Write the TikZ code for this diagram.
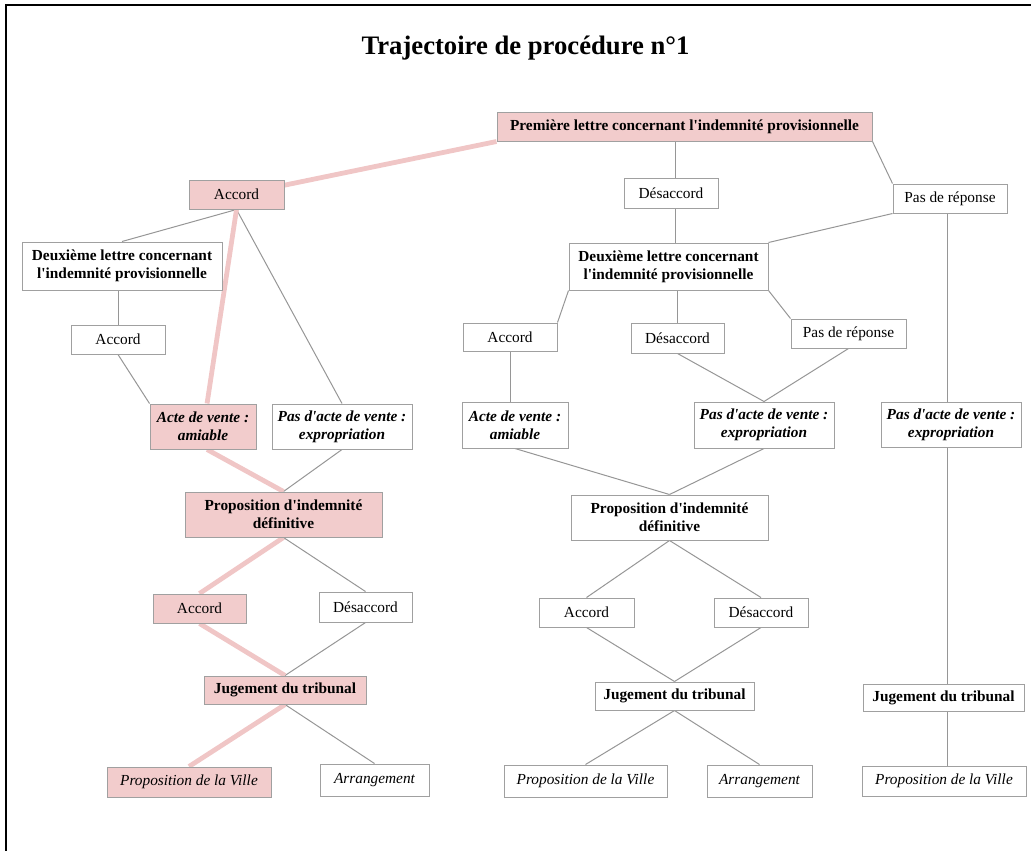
\documentclass[tikz,border=0pt]{standalone}
\usepackage{fontspec}
\setmainfont{Liberation Serif}
\usetikzlibrary{backgrounds}
\definecolor{boxgray}{RGB}{160,160,160}
\definecolor{linegray}{RGB}{150,150,150}
\definecolor{pinkfill}{RGB}{242,204,204}
\definecolor{pinkline}{RGB}{240,198,198}
\newcommand\ap{\textquotesingle}
\tikzset{
  box/.style={draw=boxgray, line width=0.75pt, fill=white, align=center, inner sep=1pt,
              font=\fontsize{11.5}{13.5}\selectfont},
  hl/.style={fill=pinkfill},
  txtb/.style={font=\fontsize{11.5}{13.5}\selectfont\bfseries},
  txtbi/.style={font=\fontsize{11.5}{13.5}\selectfont\bfseries\itshape},
  txti/.style={font=\fontsize{11.5}{13.5}\selectfont\itshape},
  sz/.style 2 args={minimum width=#1*0.75pt, minimum height=#2*0.75pt},
  conn/.style={draw=linegray, line width=0.75pt},
  path/.style={draw=pinkline, line width=3.6pt},
}
\begin{document}
\begin{tikzpicture}[x=0.75pt, y=-0.75pt]
\useasboundingbox (0,0) rectangle (1031,850);
\draw[line width=1.5pt] (6,851) -- (6,5) -- (1032,5);

\node[font=\fontsize{20}{24}\selectfont\bfseries] (title) at (525.5,48) {Trajectoire de procédure n°1};

% top
\node[box,hl,txtb,sz={375}{29}] (prem) at (684.5,126.5) {Première lettre concernant l\ap indemnité provisionnelle};
\node[box,hl,sz={95}{29}] (acc1) at (236.5,194.5) {Accord};
\node[box,sz={94}{30}] (des1) at (671,193) {Désaccord};
\node[box,sz={114}{29}] (pdr1) at (950,198.5) {Pas de réponse};

% second letters
\node[box,txtb,sz={200}{48}] (deux1) at (122,266) {Deuxième lettre concernant\\l\ap indemnité provisionnelle};
\node[box,txtb,sz={199}{47}] (deux2) at (668.5,266.5) {Deuxième lettre concernant\\l\ap indemnité provisionnelle};

% third row
\node[box,sz={94}{29}] (acc2) at (118,339.5) {Accord};
\node[box,sz={94}{28}] (acc3) at (510,337) {Accord};
\node[box,sz={93}{30}] (des3) at (677.5,338) {Désaccord};
\node[box,sz={115}{29}] (pdr3) at (848.5,333.5) {Pas de réponse};

% acte row
\node[box,hl,txtbi,sz={106}{45}] (acte1) at (203,426.5) {Acte de vente :\\amiable};
\node[box,txtbi,sz={140}{45}] (pas1) at (342,426.5) {Pas d\ap acte de vente :\\expropriation};
\node[box,txtbi,sz={106}{46}] (acte2) at (515,425) {Acte de vente :\\amiable};
\node[box,txtbi,sz={140}{46}] (pas2) at (764,425) {Pas d\ap acte de vente :\\expropriation};
\node[box,txtbi,sz={140}{45}] (pas3) at (951,424.5) {Pas d\ap acte de vente :\\expropriation};

% proposition
\node[box,hl,txtb,sz={197}{45}] (prop1) at (283.5,514.5) {Proposition d\ap indemnité\\définitive};
\node[box,txtb,sz={197}{45}] (prop2) at (669.5,517.5) {Proposition d\ap indemnité\\définitive};

% accord / desaccord
\node[box,hl,sz={93}{29}] (acc4) at (199.5,608.5) {Accord};
\node[box,sz={93}{30}] (des4) at (365.5,607) {Désaccord};
\node[box,sz={95}{29}] (acc5) at (586.5,612.5) {Accord};
\node[box,sz={94}{29}] (des5) at (761,612.5) {Désaccord};

% jugement
\node[box,hl,txtb,sz={162}{28}] (jug1) at (285,690) {Jugement du tribunal};
\node[box,txtb,sz={159}{28}] (jug2) at (674.5,696) {Jugement du tribunal};
\node[box,txtb,sz={161}{27}] (jug3) at (943.5,697.5) {Jugement du tribunal};

% outcomes
\node[box,hl,txti,sz={164}{30}] (pv1) at (189,782) {Proposition de la Ville};
\node[box,txti,sz={109}{32}] (arr1) at (374.5,780) {Arrangement};
\node[box,txti,sz={163}{32}] (pv2) at (585.5,781) {Proposition de la Ville};
\node[box,txti,sz={105}{32}] (arr2) at (759.5,781) {Arrangement};
\node[box,txti,sz={164}{30}] (pv3) at (944,781) {Proposition de la Ville};

\coordinate (vx) at (947,0);
\coordinate (vm) at (675,0);

\begin{scope}[on background layer]
% grey connectors, middle and right
\draw[conn] (prem.south -| vm) -- (des1.north -| vm);
\draw[conn] (prem.south east) -- (pdr1.north west);
\draw[conn] (des1.south -| vm) -- (deux2.north -| vm);
\draw[conn] (pdr1.south west) -- (deux2.north east);
\draw[conn] (pdr1.south -| vx) -- (pas3.north -| vx);
\draw[conn] (deux2.south west) -- (acc3.north east);
\draw[conn] (deux2.south -| des3.north) -- (des3.north);
\draw[conn] (deux2.south east) -- (pdr3.north west);
\draw[conn] (acc3.south) -- (acc3.south |- acte2.north);
\draw[conn] (des3.south) -- (pas2.north);
\draw[conn] (pdr3.south) -- (pas2.north);
\draw[conn] (acte2.south) -- (prop2.north);
\draw[conn] (pas2.south) -- (prop2.north);
\draw[conn] (prop2.south) -- (acc5.north);
\draw[conn] (prop2.south) -- (des5.north);
\draw[conn] (acc5.south) -- (jug2.north);
\draw[conn] (des5.south) -- (jug2.north);
\draw[conn] (jug2.south) -- (pv2.north);
\draw[conn] (jug2.south) -- (arr2.north);
\draw[conn] (pas3.south -| vx) -- (jug3.north -| vx);
\draw[conn] (jug3.south -| vx) -- (pv3.north -| vx);
% grey connectors, left
\draw[conn] (acc1.south) -- (deux1.north);
\draw[conn] (acc1.south) -- (pas1.north);
\draw[conn] (deux1.south -| acc2.north) -- (acc2.north);
\draw[conn] (acc2.south) -- (acte1.north west);
\draw[conn] (pas1.south) -- (prop1.north);
\draw[conn] (prop1.south) -- (des4.north);
\draw[conn] (des4.south) -- (jug1.north);
\draw[conn] (jug1.south) -- (arr1.north);
% highlighted path
\draw[path] (prem.south west) -- (acc1.11);
\draw[path] (acc1.south) -- (acte1.80);
\draw[path] (acte1.-80) -- (prop1.north);
\draw[path] (prop1.south) -- (acc4.north);
\draw[path] (acc4.south) -- (jug1.north);
\draw[path] (jug1.south) -- (pv1.north);
\end{scope}
\end{tikzpicture}
\end{document}
